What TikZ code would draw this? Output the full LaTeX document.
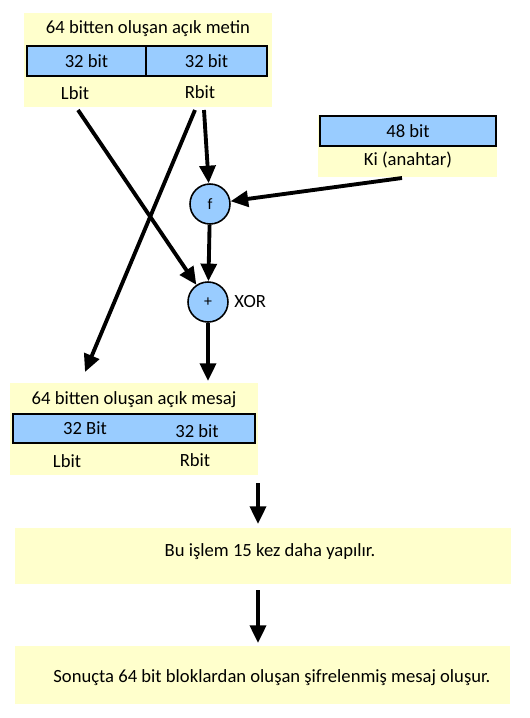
\documentclass[tikz,border=0pt]{standalone}
\usepackage{fontspec}
\setmainfont{Carlito}
\usepackage{tikz}
\usetikzlibrary{arrows.meta,positioning}
\definecolor{Pale}{HTML}{FFFFCC}
\definecolor{Sky}{HTML}{99CCFF}
\def\u{0.02cm}
\tikzset{
  txt/.style={font=\fontsize{10.6}{12}\selectfont,inner sep=1pt},
  pane/.style={fill=Pale,draw=none,inner sep=0pt},
  cell/.style={txt,fill=Sky,draw=black,line width=1.1pt},
  gate/.style={txt,circle,fill=Sky,draw=black,line width=0.9pt,minimum size=40*\u,inner sep=0pt,font=\fontsize{9}{10}\selectfont},
  flow/.style={line width=2.2pt,-{Triangle[length=10pt,width=9pt]}}
}
\begin{document}
\begin{tikzpicture}[x=0.02cm,y=-0.02cm]
  \useasboundingbox (0,0) rectangle (529,718);
  % plain text block
  \node[pane,minimum width=248*\u,minimum height=94*\u] (top) at (148,60) {};
  \node[txt] (topcap) at (148,29) {64 bitten oluşan açık metin};
  \node[cell,minimum width=119*\u,minimum height=30*\u] (L0) at (86.5,61) {32 bit};
  \node[cell,minimum width=121*\u,minimum height=30*\u] (R0) at (206.5,61) {32 bit};
  \node[txt] (Lb0) at (75,93) {Lbit};
  \node[txt] (Rb0) at (200,92) {Rbit};
  % key
  \node[pane,minimum width=179*\u,minimum height=62*\u] (kpane) at (407.5,146) {};
  \node[cell,minimum width=176*\u,minimum height=30*\u] (key) at (408,131) {48 bit};
  \node[txt] (ki) at (408,160) {Ki (anahtar)};
  % round function
  \node[gate] (f) at (210,204) {f};
  \node[gate] (xor) at (208,302) {+};
  \node[txt,anchor=west,xshift=2pt] (xorlab) at (xor.east) {XOR};
  % output block
  \node[pane,minimum width=248*\u,minimum height=92*\u] (bot) at (134,429) {};
  \node[txt] (botcap) at (134,400) {64 bitten oluşan açık mesaj};
  \node[cell,minimum width=242*\u,minimum height=29*\u] (bar) at (134,428.5) {};
  \node[txt] (L1) at (85,428) {32 Bit};
  \node[txt] (R1) at (197,431) {32 bit};
  \node[txt] (Lb1) at (67,461) {Lbit};
  \node[txt] (Rb1) at (195,460) {Rbit};
  % rounds
  \node[pane,minimum width=496*\u,minimum height=56*\u] (rep) at (263,556) {};
  \node[txt] (reptxt) at (270,552) {Bu işlem 15 kez daha yapılır.};
  \node[pane,minimum width=495*\u,minimum height=58*\u] (res) at (262.5,675) {};
  \node[txt] (restxt) at (272,678) {Sonuçta 64 bit bloklardan oluşan şifrelenmiş mesaj oluşur.};
  % arrows
  \coordinate (lsrc) at (78,110);
  \coordinate (rsrc) at (204,110);
  \coordinate (rsrc2) at (195,110);
  \coordinate (ksrc) at (402,178);
  \coordinate (lend) at (85,372);
  \coordinate (xend) at (208,381);
  \coordinate (a1) at (258,483);
  \coordinate (a2) at (258,524);
  \coordinate (a3) at (258,590);
  \coordinate (a4) at (258,643);
  \draw[flow] (rsrc) -- (f);
  \draw[flow] (ksrc) -- (f);
  \draw[flow] (f) -- (xor);
  \draw[flow] (lsrc) -- (xor);
  \draw[flow] (rsrc2) -- (lend);
  \draw[flow] (xor) -- (xend);
  \draw[flow] (a1) -- (a2);
  \draw[flow] (a3) -- (a4);
\end{tikzpicture}
\end{document}
